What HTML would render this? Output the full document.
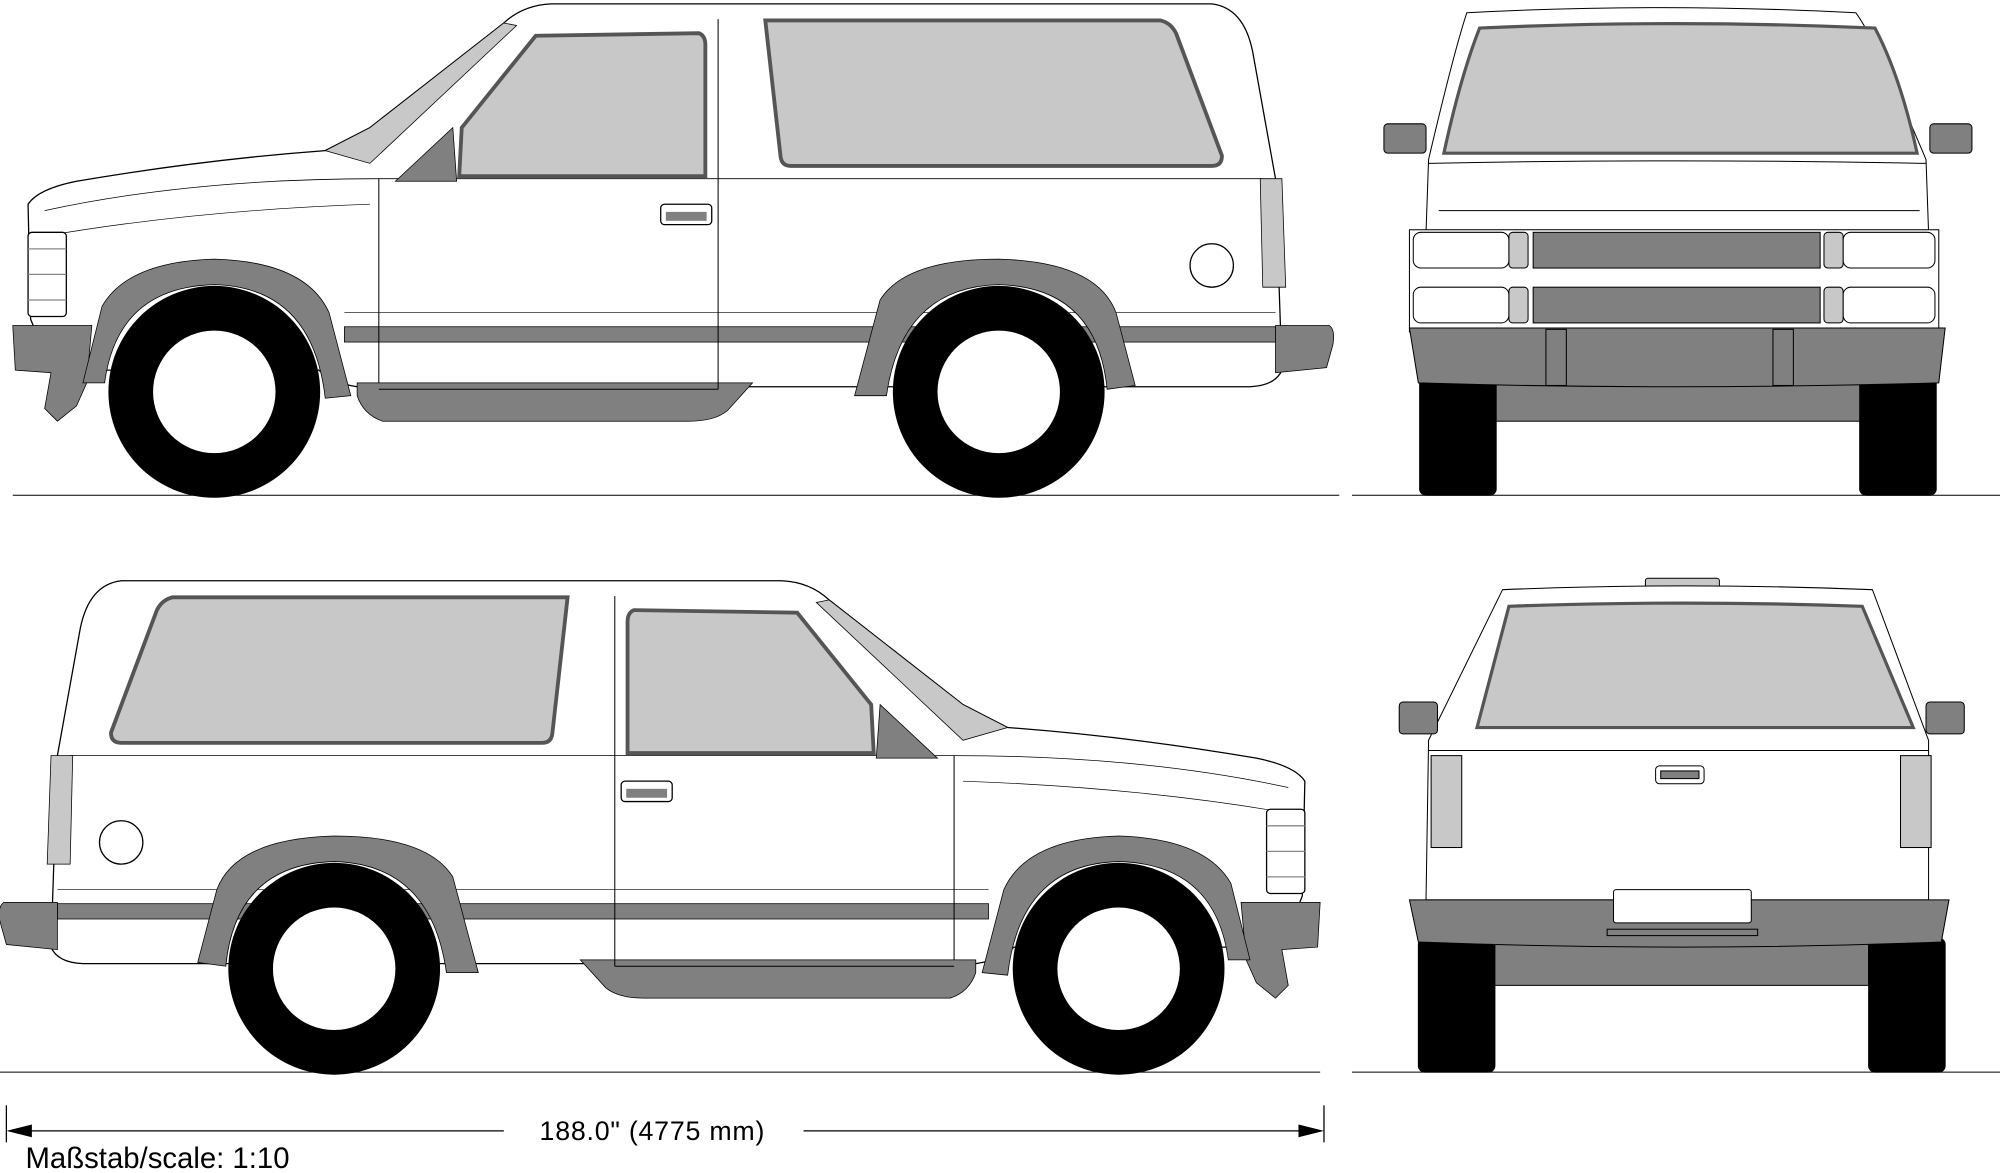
<!DOCTYPE html>
<html><head><meta charset="utf-8"><style>
html,body{margin:0;padding:0;background:#fff;}
svg{display:block;}
text{font-family:"Liberation Sans",sans-serif;}
</style></head><body>
<svg width="2000" height="1173" viewBox="0 0 1568 919" preserveAspectRatio="none" xmlns="http://www.w3.org/2000/svg">
<defs>
<g id="side">
  <line x1="10" y1="388" x2="1050" y2="388" stroke="#000" stroke-width="0.8"/>
  <path d="M22,160 Q30,148 60,142 Q160,125 255,118 L290,100 L395,18 Q410,4 432,3 L950,3 Q975,6 982,40 L1000,140 L1005,290 Q1000,302 980,303 L280,303 Q260,300 250,290 L40,290 L24,250 Z" fill="#fff" stroke="#000" stroke-width="1"/>
  <path d="M280,300 L590,300 L570,322 Q560,330 540,330 L300,330 Q285,325 280,310 Z" fill="#808080" stroke="#000" stroke-width="0.6"/>
  <rect x="270" y="256" width="730" height="12" fill="#808080" stroke="#000" stroke-width="0.6"/>
  <line x1="297" y1="140" x2="297" y2="300" stroke="#000" stroke-width="0.8"/>
  <line x1="563" y1="15" x2="563" y2="305" stroke="#000" stroke-width="0.8"/>
  <path d="M297,305 L563,305" stroke="#000" stroke-width="0.8"/>
  <path d="M35,165 Q150,140 297,140 L990,140" stroke="#000" stroke-width="0.6" fill="none"/>
  <path d="M35,185 Q150,165 290,160" stroke="#000" stroke-width="0.5" fill="none"/>
  <line x1="270" y1="245" x2="1000" y2="245" stroke="#000" stroke-width="0.5"/>
  <path d="M255,118 L290,128 L405,20 L395,18 L290,100 Z" fill="#c8c8c8" stroke="#000" stroke-width="0.6"/>
  <path d="M310,142 L355,100 L358,142 Z" fill="#808080" stroke="#000" stroke-width="0.6"/>
  <path d="M362,100 L420,28 L548,26 Q553,28 553,35 L553,138 L360,138 Z" fill="#c8c8c8" stroke="#555" stroke-width="3"/>
  <path d="M600,16 L910,16 Q918,18 922,26 L958,122 Q958,130 950,130 L620,130 Q613,130 612,123 Z" fill="#c8c8c8" stroke="#555" stroke-width="3"/>
  <rect x="518" y="160" width="40" height="16" rx="3" fill="#fff" stroke="#000"/>
  <rect x="522" y="166" width="32" height="7" fill="#808080"/>
  <circle cx="950" cy="208" r="17" fill="#fff" stroke="#000"/>
  <rect x="22" y="182" width="30" height="66" rx="3" fill="#fff" stroke="#000"/>
  <path d="M22,195 L52,195 M22,215 L52,215 M22,235 L52,235" stroke="#888"/>
  <path d="M988,140 L1005,140 L1008,225 L990,225 Z" fill="#c8c8c8" stroke="#000" stroke-width="0.6"/>
  <path d="M10,255 L72,255 L68,300 L60,318 L45,330 L35,320 L40,292 L12,290 Z" fill="#808080" stroke="#000" stroke-width="0.6"/>
  <path d="M1000,255 L1042,255 Q1047,258 1045,270 L1040,288 L1000,292 Z" fill="#808080" stroke="#000" stroke-width="0.6"/>
  <path d="M65,300 L80,240 Q100,205 168,203 Q240,205 258,245 L275,310 L255,312 Q245,225 168,223 Q92,225 82,300 Z" fill="#808080" stroke="#000" stroke-width="0.6"/>
  <path d="M670,310 L690,235 Q710,203 783,203 Q860,205 875,245 L890,302 L868,305 Q860,225 783,223 Q707,225 695,310 Z" fill="#808080" stroke="#000" stroke-width="0.6"/>
  <circle cx="168" cy="307" r="83" fill="#000"/>
  <circle cx="168" cy="307" r="48" fill="#fff"/>
  <circle cx="783" cy="307" r="83" fill="#000"/>
  <circle cx="783" cy="307" r="48" fill="#fff"/>
</g>
</defs>
<rect width="1568" height="919" fill="#fff"/>
<use href="#side"/>
<g transform="translate(1045,452) scale(-1,1)"><use href="#side"/></g>

<!-- FRONT VIEW -->
<g stroke="#000" stroke-width="0.8">
  <path d="M1150,10 Q1300,2 1455,10 Q1470,30 1510,125 L1512,182 L1118,182 L1120,125 Q1140,40 1150,10 Z" fill="#fff"/>
  <path d="M1160,22 Q1310,15 1470,22 Q1490,60 1503,120 L1132,120 Q1145,60 1160,22 Z" fill="#c8c8c8" stroke="#555" stroke-width="2.5"/>
  <path d="M1120,128 Q1310,124 1510,128" fill="none"/>
  <path d="M1128,165 L1505,165" fill="none"/>
  <rect x="1085" y="97" width="33" height="23" rx="3" fill="#808080"/>
  <rect x="1513" y="97" width="33" height="23" rx="3" fill="#808080"/>
  <rect x="1105" y="180" width="415" height="80" fill="#fff"/>
  <rect x="1108" y="182" width="75" height="28" rx="6" fill="#fff"/>
  <rect x="1108" y="225" width="75" height="28" rx="6" fill="#fff"/>
  <rect x="1445" y="182" width="72" height="28" rx="6" fill="#fff"/>
  <rect x="1445" y="225" width="72" height="28" rx="6" fill="#fff"/>
  <rect x="1183" y="182" width="15" height="28" rx="3" fill="#c8c8c8"/>
  <rect x="1183" y="225" width="15" height="28" rx="3" fill="#c8c8c8"/>
  <rect x="1430" y="182" width="15" height="28" rx="3" fill="#c8c8c8"/>
  <rect x="1430" y="225" width="15" height="28" rx="3" fill="#c8c8c8"/>
  <rect x="1202" y="182" width="225" height="28" fill="#808080"/>
  <rect x="1202" y="225" width="225" height="28" fill="#808080"/>
  <rect x="1170" y="295" width="290" height="35" fill="#808080"/>
  <rect x="1113" y="290" width="60" height="98" rx="5" fill="#000"/>
  <rect x="1458" y="290" width="60" height="98" rx="5" fill="#000"/>
  <path d="M1105,257 L1525,257 L1520,300 Q1310,306 1112,300 Z" fill="#808080"/>
  <rect x="1212" y="258" width="16" height="44" fill="#808080"/>
  <rect x="1390" y="258" width="16" height="44" fill="#808080"/>
</g>
<line x1="1060" y1="388" x2="1568" y2="388" stroke="#000" stroke-width="0.8"/>

<!-- REAR VIEW -->
<g stroke="#000" stroke-width="0.8">
  <rect x="1290" y="453" width="58" height="9" rx="2" fill="#c8c8c8"/>
  <path d="M1178,462 Q1320,456 1468,462 L1512,580 L1512,705 L1118,705 L1120,580 Z" fill="#fff"/>
  <path d="M1183,475 Q1320,470 1460,475 L1500,570 L1158,570 Z" fill="#c8c8c8" stroke="#555" stroke-width="2.5"/>
  <path d="M1120,588 L1512,588" fill="none"/>
  <rect x="1097" y="550" width="30" height="25" rx="3" fill="#808080"/>
  <rect x="1510" y="550" width="30" height="25" rx="3" fill="#808080"/>
  <rect x="1122" y="592" width="24" height="72" fill="#c8c8c8"/>
  <rect x="1490" y="592" width="24" height="72" fill="#c8c8c8"/>
  <rect x="1298" y="600" width="38" height="14" rx="3" fill="#fff"/>
  <rect x="1302" y="604" width="30" height="6" fill="#808080"/>
  <rect x="1170" y="738" width="295" height="34" fill="#808080"/>
  <rect x="1112" y="735" width="60" height="105" rx="5" fill="#000"/>
  <rect x="1465" y="735" width="60" height="105" rx="5" fill="#000"/>
  <path d="M1105,705 L1528,705 L1522,738 Q1320,746 1112,738 Z" fill="#808080"/>
  <rect x="1265" y="697" width="108" height="26" rx="2" fill="#fff"/>
  <rect x="1260" y="728" width="118" height="5" fill="#808080"/>
</g>
<line x1="1060" y1="840" x2="1568" y2="840" stroke="#000" stroke-width="0.8"/>

<!-- dimension -->
<line x1="5" y1="866" x2="5" y2="895" stroke="#000"/>
<line x1="1038" y1="866" x2="1038" y2="895" stroke="#000"/>
<line x1="12" y1="886" x2="395" y2="886" stroke="#000"/>
<line x1="630" y1="886" x2="1030" y2="886" stroke="#000"/>
<path d="M5,886 L25,881 L25,891 Z" fill="#000"/>
<path d="M1038,886 L1018,881 L1018,891 Z" fill="#000"/>
<text x="423" y="893" font-size="21" letter-spacing="0.6">188.0"  (4775  mm)</text>
<text x="20" y="915" font-size="23">Maßstab/scale: 1:10</text>
</svg>
</body></html>
